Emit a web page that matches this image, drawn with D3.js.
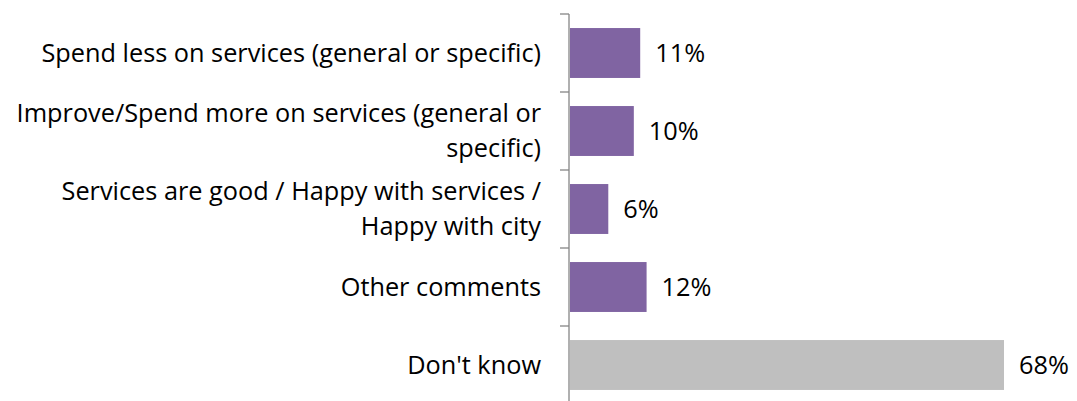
<!DOCTYPE html>
<html lang="en">
<head>
    <meta charset="UTF-8">
    <title>Comments bar chart</title>
    <script src="https://d3js.org/d3.v7.min.js"></script>
    <style>
        body { margin: 0; background: #fff; }
        text { font-family: "Open Sans", sans-serif; fill: #000; }
    </style>
</head>
<body>
    <svg id="chart"></svg>
    <script>
        const categories = [
            "Spend less on services (general or specific)",
            "Improve/Spend more on services (general or specific)",
            "Services are good / Happy with services / Happy with city",
            "Other comments",
            "Don't know"
        ];
        const values = [11, 10, 6, 12, 68];
        const valueLabels = ["11%", "10%", "6%", "12%", "68%"];
        const barColors = ["#8064A2", "#8064A2", "#8064A2", "#8064A2", "#BFBFBF"];

        const width = 1077, height = 401;
        const axisX = 569;
        const fontSize = 25.3;

        const svg = d3.select("#chart").attr("width", width).attr("height", height);

        const y = d3.scaleBand().domain(categories).range([14, 404]).paddingInner(0.36).paddingOuter(0.18);
        const x = d3.scaleLinear().domain([0, 68]).range([axisX + 1, axisX + 435]);

        // bars
        svg.selectAll("rect.bar")
            .data(categories)
            .enter().append("rect")
            .attr("class", "bar")
            .attr("x", x(0))
            .attr("y", d => y(d))
            .attr("width", (d, i) => x(values[i]) - x(0))
            .attr("height", y.bandwidth())
            .attr("fill", (d, i) => barColors[i]);

        // axis line and ticks
        const step = y.step();
        const tickYs = d3.range(categories.length + 1).map(i => 14 + i * step);
        svg.append("line")
            .attr("x1", axisX).attr("x2", axisX)
            .attr("y1", 14).attr("y2", height)
            .attr("stroke", "#868686").attr("stroke-width", 1.3);
        svg.selectAll("line.tick")
            .data(tickYs)
            .enter().append("line")
            .attr("class", "tick")
            .attr("x1", axisX - 9).attr("x2", axisX)
            .attr("y1", d => d).attr("y2", d => d)
            .attr("stroke", "#868686").attr("stroke-width", 1.3);

        // category labels, wrapped
        const maxW = 535, lineH = 35;
        categories.forEach((cat, i) => {
            const cy = y(cat) + y.bandwidth() / 2;
            const t = svg.append("text")
                .attr("text-anchor", "end")
                .attr("font-size", fontSize)
                .attr("x", axisX - 28);
            const words = cat.split(" ");
            let lines = [], line = [];
            const probe = t.append("tspan");
            words.forEach(w => {
                line.push(w);
                probe.text(line.join(" "));
                if (probe.node().getComputedTextLength() > maxW && line.length > 1) {
                    line.pop();
                    lines.push(line.join(" "));
                    line = [w];
                }
            });
            lines.push(line.join(" "));
            probe.remove();
            const y0 = cy - (lines.length - 1) * lineH / 2;
            lines.forEach((l, k) => {
                t.append("tspan")
                    .attr("x", axisX - 28)
                    .attr("y", y0 + k * lineH)
                    .attr("dy", "0.35em")
                    .text(l);
            });
        });

        // value labels
        svg.selectAll("text.val")
            .data(categories)
            .enter().append("text")
            .attr("class", "val")
            .attr("font-size", fontSize)
            .attr("x", (d, i) => x(values[i]) + 15)
            .attr("y", d => y(d) + y.bandwidth() / 2)
            .attr("dy", "0.35em")
            .text((d, i) => valueLabels[i]);
    </script>
</body>
</html>
